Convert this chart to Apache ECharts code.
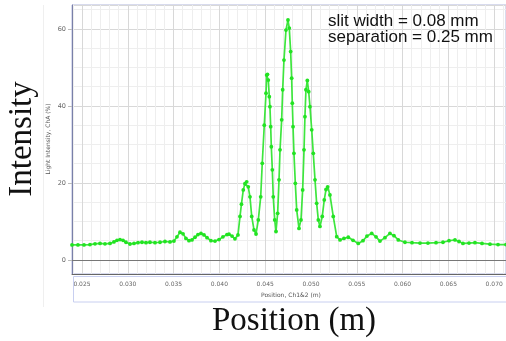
<!DOCTYPE html>
<html><head><meta charset="utf-8">
<script src="https://cdn.jsdelivr.net/npm/echarts@6/dist/echarts.min.js"></script>
<style>html,body{margin:0;padding:0;background:#fff}#c{width:506px;height:341px}</style>
</head><body><div id="c"></div>
<script>
const positionM = [0.02391,0.02456,0.02522,0.02587,0.02642,0.02697,0.02751,0.02806,0.02849,0.02882,0.02915,0.02948,0.02980,0.03024,0.03068,0.03111,0.03155,0.03199,0.03242,0.03297,0.03352,0.03406,0.03461,0.03504,0.03537,0.03570,0.03603,0.03635,0.03668,0.03701,0.03734,0.03766,0.03799,0.03832,0.03865,0.03908,0.03952,0.03996,0.04039,0.04083,0.04105,0.04138,0.04170,0.04203,0.04225,0.04241,0.04261,0.04279,0.04298,0.04315,0.04334,0.04353,0.04378,0.04400,0.04425,0.04451,0.04468,0.04490,0.04509,0.04516,0.04525,0.04534,0.04545,0.04552,0.04560,0.04567,0.04578,0.04588,0.04604,0.04618,0.04636,0.04651,0.04662,0.04680,0.04691,0.04705,0.04727,0.04749,0.04763,0.04778,0.04789,0.04796,0.04804,0.04814,0.04829,0.04844,0.04869,0.04891,0.04909,0.04924,0.04934,0.04945,0.04960,0.04975,0.04989,0.05008,0.05025,0.05044,0.05062,0.05080,0.05098,0.05123,0.05145,0.05164,0.05182,0.05207,0.05243,0.05281,0.05317,0.05360,0.05407,0.05459,0.05516,0.05568,0.05611,0.05663,0.05710,0.05753,0.05808,0.05862,0.05906,0.05953,0.06026,0.06103,0.06190,0.06277,0.06365,0.06441,0.06507,0.06572,0.06616,0.06659,0.06725,0.06790,0.06867,0.06954,0.07042,0.07129];
const intensityPct = [3.9,3.9,3.9,4.0,4.2,4.3,4.2,4.3,4.7,5.1,5.3,5.1,4.6,4.15,4.3,4.5,4.6,4.5,4.6,4.5,4.6,4.8,4.7,4.9,6.0,7.2,6.8,5.6,5.0,5.2,5.9,6.6,6.9,6.5,5.8,5.0,4.9,5.3,6.0,6.6,6.7,6.2,5.5,6.5,11.3,14.5,18.2,19.8,20.3,19.0,16.4,11.3,7.8,6.75,10.4,16.4,25.1,35.0,43.3,48.0,48.2,46.7,42.4,39.8,34.6,29.4,23.4,16.4,10.4,7.4,12.1,20.8,28.6,36.4,44.2,51.9,59.7,62.3,60.2,54.1,47.2,40.7,34.6,27.7,19.9,13.0,8.2,10.4,18.2,28.6,37.2,44.2,46.6,43.7,39.8,33.8,27.7,20.8,14.7,10.4,8.7,11.3,15.6,18.3,19.0,16.9,11.3,6.05,5.2,5.6,5.9,5.1,4.3,5.0,6.2,6.9,6.0,4.9,5.8,6.9,6.3,5.2,4.6,4.5,4.4,4.4,4.5,4.6,5.0,5.2,4.8,4.3,4.4,4.5,4.3,4.1,4.0,4.0];
const xRange = [0.02391, 0.07129];
const yRange = [-3.64, 66.2];
const annotationLines = ['slit width = 0.08 mm', 'separation = 0.25 mm'];
const bigYTitle = 'Intensity';
const bigXTitle = 'Position (m)';
const innerYTitle = 'Light Intensity, ChA (%)';
const innerXTitle = 'Position, Ch1&2 (m)';

const seriesData = positionM.map((x, i) => [x, intensityPct[i]]);
const chart = echarts.init(document.getElementById('c'), null, {renderer: 'canvas'});
chart.setOption({
  animation: false,
  backgroundColor: '#fff',
  grid: {left: 72, top: 5, width: 434, height: 269, show: true, borderColor: '#b0b6dc', borderWidth: 1, backgroundColor: '#fff', containLabel: false},
  xAxis: {
    type: 'value', min: xRange[0], max: xRange[1], splitNumber: 9, minInterval: 0.005, maxInterval: 0.005,
    axisLine: {show: true, onZero: false, lineStyle: {color: '#666', width: 1}},
    axisTick: {show: false},
    axisLabel: {formatter: v => v.toFixed(3), fontSize: 6, color: '#666', margin: 7, showMinLabel: false, showMaxLabel: false, fontFamily: 'DejaVu Sans'},
    splitLine: {show: true, lineStyle: {color: '#d8d8d8', width: 1}},
    minorTick: {show: false, splitNumber: 5},
    minorSplitLine: {show: true, lineStyle: {color: '#eeeeee', width: 1}}
  },
  yAxis: {
    type: 'value', min: yRange[0], max: yRange[1], splitNumber: 4, minInterval: 20, maxInterval: 20,
    axisLine: {show: true, lineStyle: {color: '#7a80a8', width: 1}},
    axisTick: {show: true, length: 4, lineStyle: {color: '#bbbbbb'}},
    axisLabel: {fontSize: 6.5, color: '#666', margin: 6, showMinLabel: false, showMaxLabel: false, fontFamily: 'DejaVu Sans'},
    splitLine: {show: true, lineStyle: {color: '#d8d8d8', width: 1}},
    minorTick: {show: false, splitNumber: 4},
    minorSplitLine: {show: true, lineStyle: {color: '#eeeeee', width: 1}}
  },
  series: [{
    type: 'line', data: seriesData, symbol: 'circle', symbolSize: 3.8, showSymbol: true,
    itemStyle: {color: '#22e322'}, lineStyle: {color: '#3ee63e', width: 1.7},
    z: 5, clip: true,
    markLine: {silent: true, symbol: 'none', label: {show: false}, lineStyle: {color: '#777', width: 1, type: 'solid'}, data: [{yAxis: 0}]}
  }],
  graphic: [
    {type: 'line', shape: {x1: 43.5, y1: 5, x2: 43.5, y2: 307}, style: {stroke: '#efefef', lineWidth: 1}, z: 1},
    {type: 'rect', shape: {x: 73.5, y: 276.5, width: 440, height: 25.5}, style: {fill: 'none', stroke: '#c8cff0', lineWidth: 1}, z: 1},
    {type: 'text', x: 291, y: 295, style: {text: innerXTitle, font: '6px "DejaVu Sans"', fill: '#555', align: 'center', verticalAlign: 'middle'}},
    {type: 'text', x: 48, y: 139, rotation: Math.PI / 2, style: {text: innerYTitle, font: '6px "DejaVu Sans"', fill: '#555', align: 'center', verticalAlign: 'middle'}},
    {type: 'text', x: 22, y: 139, rotation: Math.PI / 2, style: {text: bigYTitle, font: '33px "Liberation Serif"', fill: '#111', align: 'center', verticalAlign: 'middle'}},
    {type: 'text', x: 294, y: 321, style: {text: bigXTitle, font: '33px "Liberation Serif"', fill: '#111', align: 'center', verticalAlign: 'middle'}},
    {type: 'text', x: 328, y: 21, z: 10, style: {text: annotationLines[0], font: '17px "Liberation Sans"', fill: '#111', align: 'left', verticalAlign: 'middle'}},
    {type: 'text', x: 328, y: 37, z: 10, style: {text: annotationLines[1], font: '17px "Liberation Sans"', fill: '#111', align: 'left', verticalAlign: 'middle'}}
  ]
});
</script></body></html>
